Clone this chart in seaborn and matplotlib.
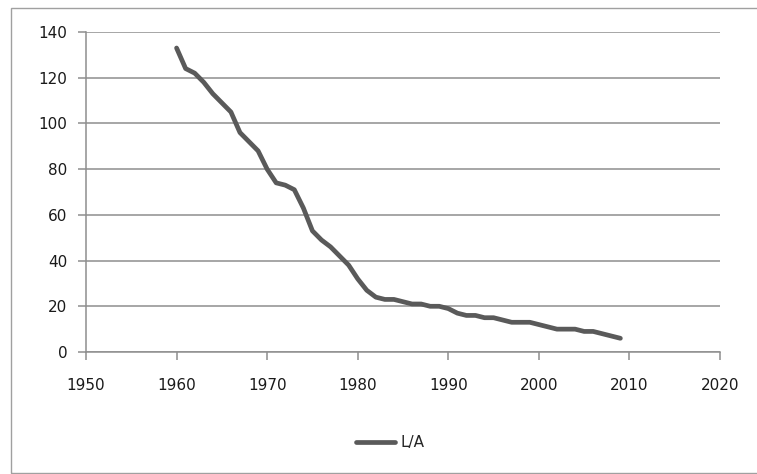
import pandas as pd
import matplotlib
matplotlib.use("Agg")
import matplotlib.pyplot as plt
import seaborn as sns
from matplotlib.patches import Rectangle

# data (yearly values)
years = list(range(1960, 2010))
la_values = [133, 124, 122, 118, 113, 109, 105, 96, 92, 88,
             80, 74, 73, 71, 63, 53, 49, 46, 42, 38,
             32, 27, 24, 23, 23, 22, 21, 21, 20, 20,
             19, 17, 16, 16, 15, 15, 14, 13, 13, 13,
             12, 11, 10, 10, 10, 9, 9, 8, 7, 6]
x_ticks = [1950, 1960, 1970, 1980, 1990, 2000, 2010, 2020]
y_ticks = [0, 20, 40, 60, 80, 100, 120, 140]

df = pd.DataFrame({"Year": years, "L/A": la_values})

sns.set_style("white")
plt.rcParams["font.family"] = ["DejaVu Sans"]

grid_col = "#8e8e8e"

fig = plt.figure(figsize=(7.57, 4.74), dpi=100)
ax = fig.add_axes([86 / 757, 1 - 352 / 474, (720 - 86) / 757, (352 - 32) / 474])

sns.lineplot(data=df, x="Year", y="L/A", ax=ax, color="#5a5a5a",
             linewidth=3.4, label="L/A", solid_capstyle="round",
             solid_joinstyle="round")

ax.set_xlim(1950, 2020)
ax.set_ylim(0, 140)
ax.set_xticks(x_ticks)
ax.set_yticks(y_ticks)
ax.set_xlabel("")
ax.set_ylabel("")

ax.yaxis.grid(True, color=grid_col, linewidth=1.1)
ax.xaxis.grid(False)
ax.set_axisbelow(True)

for side in ["top", "right"]:
    ax.spines[side].set_visible(False)
for side in ["left", "bottom"]:
    ax.spines[side].set_color(grid_col)
    ax.spines[side].set_linewidth(1.1)

ax.tick_params(axis="x", direction="out", length=5.5, width=1.1, color=grid_col,
               pad=13, labelsize=11, labelcolor="#1a1a1a", bottom=True)
ax.tick_params(axis="y", direction="out", length=5.5, width=1.1, color=grid_col,
               pad=8, labelsize=11, labelcolor="#1a1a1a", left=True)

ax.legend_.remove()
handles, labels = ax.get_legend_handles_labels()
fig.legend(handles, labels, loc="center", bbox_to_anchor=(0.515, 1 - 443 / 474),
           frameon=False, fontsize=11, handlelength=2.6, handletextpad=0.3)

# chart border like the Excel chart area
fig.patches.append(Rectangle((11 / 757, 1 / 474), 1.2, 465 / 474,
                             transform=fig.transFigure, fill=False,
                             edgecolor="#a0a0a0", linewidth=1.0))

fig.savefig("out.png", dpi=100)
